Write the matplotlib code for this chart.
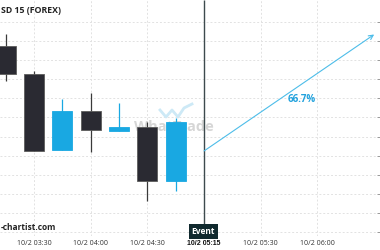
import matplotlib
matplotlib.use("Agg")
import matplotlib.pyplot as plt
from matplotlib.lines import Line2D

plt.rcParams['font.family'] = ['Open Sans', 'DejaVu Sans']

# ---- data (price in grid units, x in 15-minute steps from 03:30) ----
candle_x = [-1, 0, 1, 2, 3, 4, 5]
opens  = [9.74, 8.27, 4.30, 6.33, 5.29, 5.51, 2.68]
highs  = [10.34, 8.42, 6.96, 7.29, 6.77, 5.78, 5.98]
lows   = [7.90, 4.25, 4.30, 4.21, 5.29, 1.65, 2.16]
closes = [8.27, 4.25, 6.33, 5.34, 5.50, 2.68, 5.78]

tick_pos = [0, 2, 4, 6, 8, 10]
tick_labels = ["10/2 03:30", "10/2 04:00", "10/2 04:30", "10/2 05:15", "10/2 05:30", "10/2 06:00"]
event_x = 6
arrow_start = (6, 4.25)
arrow_end = (12, 10.33)
pct_label = "66.7%"
price_ticks = list(range(12))

UP = '#19a8e2'
DOWN = '#2a2a32'

W, H = 380, 250
fig = plt.figure(figsize=(W / 100, H / 100), dpi=100)
ax = fig.add_axes([0, (H - 236) / H, 377 / W, 236 / H])
ax.set_xlim(-1.2, 12.1)
ax.set_ylim(-0.19, 12.13)

for s in ax.spines.values():
    s.set_visible(False)

# grid
for p in price_ticks:
    ax.axhline(p, color='#e2e2e2', lw=0.7, ls=(0, (2, 2)), zorder=0)
for t in tick_pos:
    if t != event_x:
        ax.axvline(t, color='#e2e2e2', lw=0.7, ls=(0, (2, 2)), zorder=0)

# watermark
ax.text(4.92, 5.5, "WhatTrade", fontsize=10.5, fontweight='bold', color='#d6d6d6',
        ha='center', va='center', zorder=1)
logo_px = [(160, 110), (166, 117), (172, 110), (178, 117), (184, 108), (192, 104)]
logo = Line2D([x / W for x, y in logo_px], [1 - y / H for x, y in logo_px],
              transform=fig.transFigure, color='#cde9f6', lw=2, zorder=1)
fig.add_artist(logo)

# candles
bw = 0.7
for x, o, h, l, c in zip(candle_x, opens, highs, lows, closes):
    up = c >= o
    col = UP if up else DOWN
    ax.vlines(x, l, h, color=(UP if up else '#3a3a3a'), lw=0.9, zorder=2)
    ax.bar(x, abs(c - o), bottom=min(o, c), width=bw, color=col,
           edgecolor=(UP if up else '#5c5c5c'), lw=0.6, zorder=3)

# event line
ax.vlines(event_x, 0.22, 12.13, color='#3d4a4d', lw=1.0, zorder=4)
ax.text(event_x - 0.03, 0.03, "Event", fontsize=6, fontweight='bold', color='white',
        ha='center', va='center', zorder=6,
        bbox=dict(boxstyle='square,pad=0.35', fc='#10292e', ec='none'))

# arrow
ax.annotate('', xy=arrow_end, xytext=arrow_start,
            arrowprops=dict(arrowstyle='->', color='#4dbde9', lw=0.8,
                            shrinkA=0, shrinkB=0, mutation_scale=8), zorder=5)
ax.text(9.45, 6.96, pct_label, fontsize=7, fontweight='bold', color='#22a2dd',
        ha='center', va='center', zorder=5)

# ticks
ax.set_xticks(tick_pos)
ax.set_xticklabels(tick_labels)
ax.tick_params(axis='x', length=0, pad=3, labelsize=5, labelcolor='#333333')
for lbl, t in zip(ax.get_xticklabels(), tick_pos):
    if t == event_x:
        lbl.set_fontweight('bold')
        lbl.set_family(['Liberation Sans', 'DejaVu Sans'])
        lbl.set_fontsize(5)
        lbl.set_color('#111111')
ax.yaxis.tick_right()
ax.set_yticks(price_ticks)
ax.tick_params(axis='y', length=3, width=0.6, color='#888888', labelright=False)

# header / footer texts
fig.text(1 / W, 1 - 10.7 / H, "SD 15 (FOREX)", fontsize=6.3, fontweight='bold',
         color='#222222', ha='left', va='center')
fig.text(1 / W, 1 - 228 / H, "-chartist.com", fontsize=6, fontweight='bold',
         color='#222222', ha='left', va='center')

fig.savefig("out.png", dpi=100)
